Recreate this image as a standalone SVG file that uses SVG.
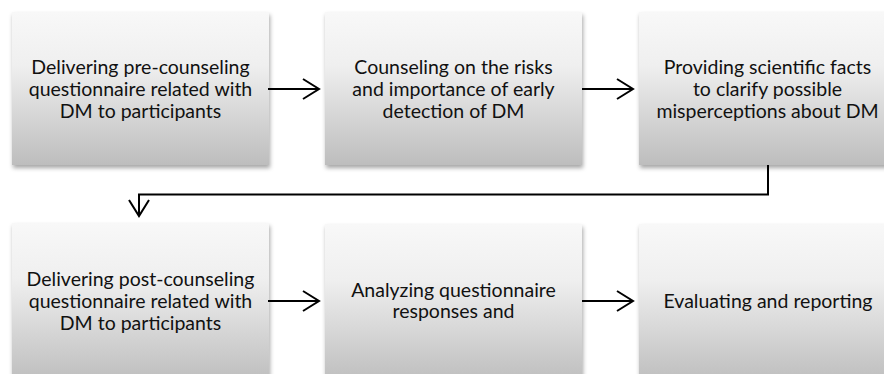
<svg xmlns="http://www.w3.org/2000/svg" width="884" height="374" viewBox="0 0 884 374">
<style>
.box{fill:url(#g);filter:url(#sh);}
.t{font-family:Lato,"Liberation Sans",sans-serif;font-size:19.5px;fill:#111;text-anchor:middle;}
.c{fill:none;stroke:#000;stroke-width:2;}
</style>
<defs>
<linearGradient id="g" x1="0" y1="0" x2="0" y2="1">
<stop offset="0" stop-color="#f8f8f8"/>
<stop offset="0.35" stop-color="#efefef"/>
<stop offset="1" stop-color="#bdbdbd"/>
</linearGradient>
<filter id="sh" x="-10%" y="-10%" width="130%" height="130%">
<feDropShadow dx="1" dy="3" stdDeviation="2" flood-color="#000" flood-opacity="0.35"/>
</filter>
<marker id="a" viewBox="0 0 20 24" refX="18" refY="12" markerWidth="20" markerHeight="24" markerUnits="userSpaceOnUse" orient="auto">
<path d="M2,2 L18,12 L2,22" fill="none" stroke="#000" stroke-width="2"/>
</marker>
</defs>
<g id="n1"><rect class="box" x="12" y="12" width="257" height="153"/>
<text class="t" x="140.5" y="74">Delivering pre-counseling</text>
<text class="t" x="140.5" y="96">questionnaire related with</text>
<text class="t" x="140.5" y="118">DM to participants</text></g>
<g id="n2"><rect class="box" x="325" y="12" width="257" height="153"/>
<text class="t" x="453.5" y="74">Counseling on the risks</text>
<text class="t" x="453.5" y="96">and importance of early</text>
<text class="t" x="453.5" y="118">detection of DM</text></g>
<g id="n3"><rect class="box" x="639" y="12" width="257" height="153"/>
<text class="t" x="767.5" y="74">Providing scientific facts</text>
<text class="t" x="767.5" y="96">to clarify possible</text>
<text class="t" x="767.5" y="118">misperceptions about DM</text></g>
<g id="n4"><rect class="box" x="12" y="223" width="257" height="160"/>
<text class="t" x="140.5" y="286">Delivering post-counseling</text>
<text class="t" x="140.5" y="308">questionnaire related with</text>
<text class="t" x="140.5" y="330">DM to participants</text></g>
<g id="n5"><rect class="box" x="325" y="224" width="257" height="160"/>
<text class="t" x="453.5" y="297">Analyzing questionnaire</text>
<text class="t" x="453.5" y="318">responses and</text></g>
<g id="n6"><rect class="box" x="639" y="224" width="257" height="160"/>
<text class="t" x="768" y="308">Evaluating and reporting</text></g>
<g id="connectors">
<line class="c" x1="268" y1="89" x2="319" y2="89" marker-end="url(#a)"/>
<line class="c" x1="582" y1="89" x2="633" y2="89" marker-end="url(#a)"/>
<polyline class="c" points="768,165 768,194.5 139,194.5 139,216" marker-end="url(#a)"/>
<line class="c" x1="268" y1="301" x2="319" y2="301" marker-end="url(#a)"/>
<line class="c" x1="582" y1="301" x2="633" y2="301" marker-end="url(#a)"/>
</g>
</svg>
